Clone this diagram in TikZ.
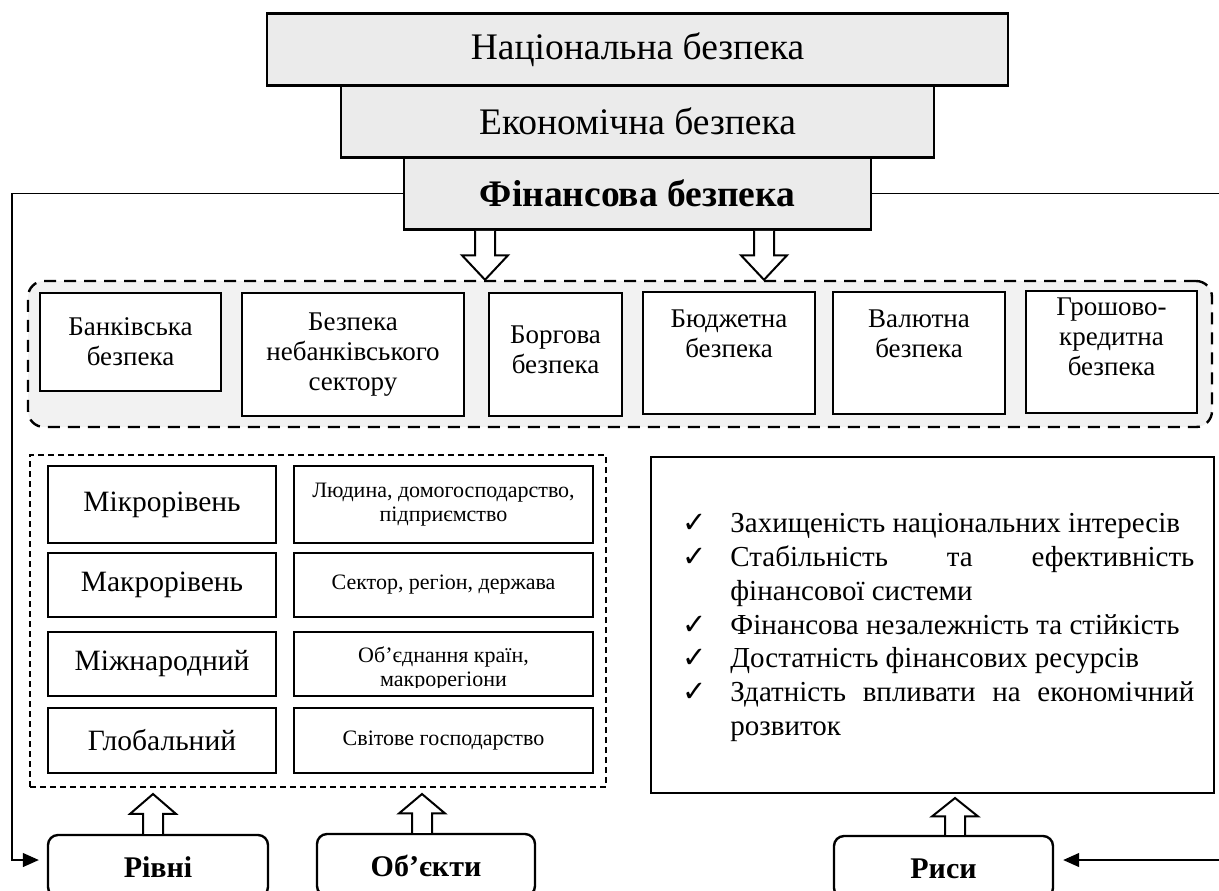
\documentclass[tikz,border=0pt]{standalone}
\usepackage{fontspec}
\setmainfont{Liberation Serif}
\newfontfamily\checkfont{DejaVu Sans}
\usepackage{tikz}
\usetikzlibrary{positioning,arrows.meta,calc}
\definecolor{boxgray}{HTML}{EBEBEB}
\definecolor{grpgray}{HTML}{F2F2F2}
\newcommand{\lift}[1]{\rule[-#1]{0pt}{0pt}}
\newcommand{\chk}{\noindent\llap{{\checkfont\char"2713}\hspace{12pt}}}
\newcommand{\fatarrow}[2]{%
  \filldraw[fatarr] let \p1=(#1), \p2=(#2), \n1={0.5*(\y2-\y1)} in
    (\x1-5pt,\y1) -- (\x1-5pt,\y1+\n1*1pt) -- (\x1-11.5pt,\y1+\n1*1pt) -- (\x1,\y2)
    -- (\x1+11.5pt,\y1+\n1*1pt) -- (\x1+5pt,\y1+\n1*1pt) -- (\x1+5pt,\y1);}

\begin{document}
\begin{tikzpicture}[x=0.5pt,y=-0.5pt,>={Triangle[length=8pt,width=7pt]},
	topbox/.style={draw,line width=1.3pt,fill=boxgray,inner sep=0pt,minimum height=36pt,font=\fontsize{18.75}{22}\selectfont},
	secbox/.style={draw,line width=1.2pt,fill=white,align=center,inner sep=0pt,font=\fontsize{13.5}{15}\selectfont},
	cell/.style={draw,line width=1.2pt,fill=white,align=center,inner sep=0pt},
	lvl/.style={cell,minimum width=114pt,font=\fontsize{14.75}{17}\selectfont},
	obj/.style={cell,minimum width=149.5pt,font=\fontsize{11}{12}\selectfont},
	kind/.style={draw,line width=1.2pt,rounded corners=5pt,minimum width=110pt,minimum height=31pt,text height=11pt,text depth=0pt,font=\fontsize{15}{18}\selectfont\bfseries},
	fatarr/.style={draw,line width=1pt,fill=white},
	conn/.style={line width=0.6pt}]
	\useasboundingbox (0,0) rectangle (1219,890);

	\node[topbox,minimum width=370.5pt] (nat) at (637.5,49.5) {Національна безпека};
	\node[topbox,minimum width=296.5pt,below=-1.3pt of nat] (econ) {Економічна безпека};
	\node[topbox,minimum width=233.5pt,below=-1.3pt of econ,font=\fontsize{18.75}{22}\selectfont\bfseries] (fin) {Фінансова безпека};

	\node[draw,line width=1.2pt,dash pattern=on 6pt off 4pt,rounded corners=8pt,fill=grpgray,minimum width=592pt,minimum height=73pt] (grp) at (620,354) {};
	\node[secbox,minimum width=90.5pt,minimum height=49pt] (bank) at (130.5,342) {Банківська\\безпека};
	\node[secbox,minimum width=111pt,minimum height=61.5pt] (nonbank) at (353,354.5) {Безпека\\небанківського\\сектору};
	\node[secbox,minimum width=66.5pt,minimum height=61.5pt] (debt) at (555.5,354.5) {Боргова\\безпека\lift{5pt}};
	\node[secbox,minimum width=86pt,minimum height=61pt] (budget) at (729,353) {Бюджетна\\безпека\lift{19pt}};
	\node[secbox,minimum width=86pt,minimum height=61pt] (curr) at (919,353) {Валютна\\безпека\lift{19pt}};
	\node[secbox,minimum width=85.5pt,minimum height=61pt] (money) at (1111.5,352) {Грошово-\\кредитна\\безпека\lift{15pt}};

	\node[draw,line width=1pt,dash pattern=on 3pt off 2pt,minimum width=288pt,minimum height=166pt] (grid) at (318,621) {};
	\node[lvl,minimum height=38.5pt] (micro) at (162,504.5) {Мікрорівень};
	\node[lvl,minimum height=32pt] (macro) at (162,585) {Макрорівень};
	\node[lvl,minimum height=32pt] (inter) at (162,664) {Міжнародний};
	\node[lvl,minimum height=32.5pt] (glob) at (162,740.5) {Глобальний};
	\node[obj,minimum height=38.5pt] (o1) at (443.5,504.5) {Людина, домогосподарство,\\підприємство};
	\node[obj,minimum height=32pt] (o2) at (443.5,585) {Сектор, регіон, держава};
	\node[obj,minimum height=32pt] (o3) at (443.5,664) {};
	\begin{scope}
		\clip (o3.north west) rectangle ([yshift=5pt]o3.south east);
		\node[font=\fontsize{11}{12}\selectfont,align=center,inner sep=0pt] (o3t) at (443.5,668.5) {Об’єднання країн,\\макрорегіони};
	\end{scope}
	\node[obj,minimum height=32.5pt] (o4) at (443.5,740.5) {Світове господарство};

	\node[draw,line width=1pt,minimum width=281.5pt,minimum height=168pt] (traitbox) at (932.5,625) {};
	\node[anchor=north west,inner sep=0pt,text width=232pt,align=justify,font=\fontsize{14.5}{16.9}\selectfont] (traits) at (730,513) {%
		\chk Захищеність національних інтересів\par
		\chk Стабільність та ефективність\linebreak фінансової системи\par
		\chk Фінансова незалежність та стійкість\par
		\chk Достатність фінансових ресурсів\par
		\chk Здатність впливати на економічний\linebreak розвиток\par};

	\node[kind] (rivni) at (158,866) {Рівні};
	\node[kind,minimum width=109pt] (objs) at (426,865) {Об’єкти};
	\node[kind,minimum width=109.5pt] (rysy) at (943.5,867) {Риси};

	\coordinate (d1) at (485,0);
	\coordinate (d2) at (764,0);
	\coordinate (u1) at (153,0);
	\coordinate (u2) at (422,0);
	\coordinate (u3) at (955,0);
	\fatarrow{fin.south -| d1}{grp.north -| d1}
	\fatarrow{fin.south -| d2}{grp.north -| d2}
	\fatarrow{rivni.north -| u1}{$(grid.south -| u1)+(0,6)$}
	\fatarrow{objs.north -| u2}{$(grid.south -| u2)+(0,6)$}
	\fatarrow{rysy.north -| u3}{$(traitbox.south -| u3)+(0,4)$}

	\coordinate (lc) at (12,860);
	\coordinate (rc) at (1222,860);
	\draw[conn,->,shorten >=4pt] (fin.west) -| (lc) -- (lc -| rivni.west);
	\draw[conn,->,shorten >=4.5pt] (fin.east) -| (rc) -- (rc -| rysy.east);
\end{tikzpicture}
\end{document}
